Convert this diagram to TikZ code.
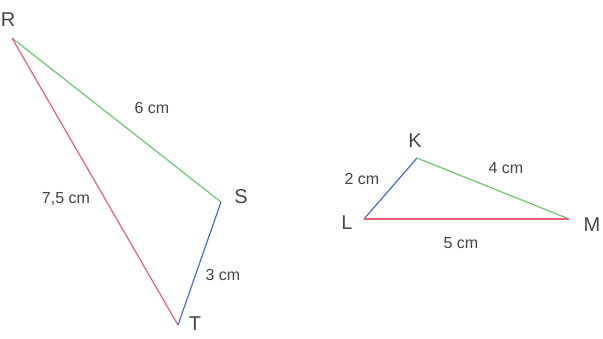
\documentclass[tikz,border=0pt]{standalone}
\usepackage{fontspec}
\setmainfont{Liberation Sans}
\definecolor{lgreen}{RGB}{110,200,110}
\definecolor{lred}{RGB}{235,95,120}
\definecolor{lblue}{RGB}{70,110,225}
\definecolor{txt}{RGB}{70,70,70}
\begin{document}
\begin{tikzpicture}[x=1pt,y=-1pt,
  edge/.style={line width=1.2pt},
  vlab/.style={text=txt,font=\fontsize{20}{22}\selectfont,inner sep=0pt},
  mlab/.style={text=txt,font=\fontsize{16}{18}\selectfont,inner sep=0pt}]
\useasboundingbox[fill=white] (0,0) rectangle (603,338);
\coordinate (R) at (12,38);
\coordinate (S) at (221,202);
\coordinate (T) at (178,325);
\coordinate (K) at (417,158);
\coordinate (L) at (364,219);
\coordinate (M) at (569,219);
\draw[edge,lgreen] (R) -- (S);
\draw[edge,lred] (R) -- (T);
\draw[edge,lblue] (S) -- (T);
\draw[edge,lblue] (L) -- (K);
\draw[edge,lgreen] (K) -- (M);
\draw[edge,lred] (L) -- (M);
\node[vlab] (nR) at (8,20) {R};
\node[vlab] (nS) at (241,197) {S};
\node[vlab] (nT) at (195,324) {T};
\node[vlab] (nK) at (415,141) {K};
\node[vlab] (nL) at (347,223) {L};
\node[vlab] (nM) at (592,225) {M};
\node[mlab] (l6) at (152,108) {6 cm};
\node[mlab] (l75) at (66,199) {7,5 cm};
\node[mlab] (l3) at (223,275) {3 cm};
\node[mlab] (l2) at (362,179) {2 cm};
\node[mlab] (l4) at (506,168) {4 cm};
\node[mlab] (l5) at (461,243) {5 cm};
\end{tikzpicture}
\end{document}
